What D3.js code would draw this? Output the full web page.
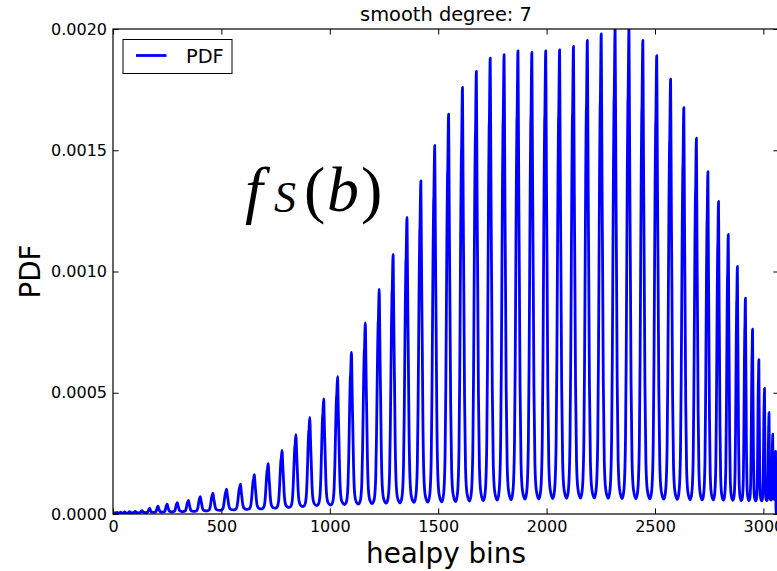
<!DOCTYPE html>
<html><head><meta charset="utf-8">
<script src="https://cdn.jsdelivr.net/npm/d3@7"></script>
<style>
body{margin:0;background:#fff}
svg{display:block}
text{font-family:"DejaVu Sans",sans-serif;fill:#000}
</style>
</head><body>
<svg id="c" width="777" height="571"></svg>
<script>
// ---- data ----
const ringPeakBin = [
  3,10,20,35,54,77,103,134,169,208,250,297,348,403,461,
  524,588,652,716,780,844,908,972,1036,1100,1164,1228,1292,1356,1420,1484,1548,1612,1676,1740,
  1804,1868,1932,1996,2060,2124,2188,2252,2316,2380,2444,2508,2572,
  2633,2691,2744,2793,2838,2880,2917,2950,2979,3005,3026,3043,3056,3066,3071
];
const ringPeakValue = [
  0.000004,0.000006,0.000007,0.000008,0.000009,0.000010,0.000011,0.000014,0.000023,0.000032,0.000041,0.000047,0.000056,0.000072,0.000086,
  0.000102,0.000123,0.000162,0.000208,0.000262,0.000327,0.000398,0.000475,0.000566,0.000666,0.000788,0.000926,0.001071,0.001223,0.001374,0.001520,
  0.001649,0.001759,0.001825,0.001880,0.001894,0.001910,0.001903,0.001910,0.001914,0.001928,0.001953,0.001980,0.002005,0.002002,0.001953,0.001890,0.001793,
  0.001676,0.001550,0.001412,0.001289,0.001153,0.001021,0.000890,0.000762,0.000636,0.000519,0.000419,0.000329,0.000258,0.000200,0.000150
];
const ringTroughValue = [
  0.000002,0.000003,0.000003,0.000004,0.000004,0.000005,0.000005,0.000006,0.000007,0.000008,0.000009,0.000010,0.000011,0.000013,0.000015,
  0.000017,0.000019,0.000021,0.000024,0.000027,0.000031,0.000035,0.000037,0.000039,0.000041,0.000043,0.000045,0.000046,0.000048,0.000049,0.000050,
  0.000051,0.000053,0.000055,0.000057,0.000059,0.000061,0.000062,0.000064,0.000065,0.000066,0.000066,0.000065,0.000064,0.000063,0.000062,0.000061,0.000060,
  0.000059,0.000058,0.000058,0.000057,0.000056,0.000055,0.000055,0.000054,0.000054,0.000055,0.000057,0.000060,0.000000,0.000000,0.000000
];
// normalised shape of one spike: [offset as fraction of ring spacing, level between trough and peak]
const spikeProfile = [
  [-0.5,0],[-0.4,0.01],[-0.32,0.04],[-0.25,0.13],[-0.2,0.3],[-0.16,0.5],[-0.12,0.7],[-0.08,0.84],[-0.06,0.86],[-0.04,0.92],[0,1],
  [0.03,0.85],[0.06,0.68],[0.1,0.5],[0.15,0.25],[0.22,0.08],[0.32,0.02],[0.5,0]
];
const xDomain = [0, 3072];
const yDomain = [0, 0.002];
const xTicks = [0,500,1000,1500,2000,2500,3000];
const yTicks = [0,0.0005,0.001,0.0015,0.002];
const yTickLabels = ["0.0000","0.0005","0.0010","0.0015","0.0020"];
const titleText = "smooth degree: 7";
const xLabel = "healpy bins";
const yLabel = "PDF";
const legendLabel = "PDF";

// ---- build line points ----
const pts = [];
ringPeakBin.forEach((p, j) => {
  const leftGap = j > 0 ? p - ringPeakBin[j-1] : 2*p;
  const rightGap = j < ringPeakBin.length-1 ? ringPeakBin[j+1] - p : 2*(xDomain[1]-p);
  const tL = j > 0 ? ringTroughValue[j-1] : 0;
  const tR = ringTroughValue[j];
  const pk = ringPeakValue[j];
  spikeProfile.forEach(([o, f]) => {
    if (o === -0.5 && j > 0) return;
    if (o <= 0) pts.push([p + o*leftGap, tL + f*(pk - tL)]);
    else pts.push([p + o*rightGap, tR + f*(pk - tR)]);
  });
});

// ---- layout ----
const L = 113, T = 29, R = 779, B = 514;
const svg = d3.select("#c");
const x = d3.scaleLinear().domain(xDomain).range([L, R]);
const y = d3.scaleLinear().domain(yDomain).range([B, T]);

svg.append("defs").append("clipPath").attr("id","clip")
  .append("rect").attr("x",L).attr("y",T).attr("width",R-L).attr("height",B-T);

svg.append("path").datum(pts)
  .attr("clip-path","url(#clip)")
  .attr("fill","none").attr("stroke","#0000ff").attr("stroke-width",2.8)
  .attr("stroke-linejoin","round").attr("stroke-linecap","round")
  .attr("d", d3.line().x(d=>x(d[0])).y(d=>y(d[1])).curve(d3.curveMonotoneX));

// axes
const tk = 5.6;
const ax = svg.append("g").attr("transform",`translate(0,${B})`)
  .call(d3.axisBottom(x).tickValues(xTicks).tickFormat(d3.format("d")).tickSizeInner(-tk).tickSizeOuter(0).tickPadding(7));
const axT = svg.append("g").attr("transform",`translate(0,${T})`)
  .call(d3.axisTop(x).tickValues(xTicks).tickFormat("").tickSizeInner(-tk).tickSizeOuter(0));
const ay = svg.append("g").attr("transform",`translate(${L},0)`)
  .call(d3.axisLeft(y).tickValues(yTicks).tickFormat((d,i)=>yTickLabels[i]).tickSizeInner(-tk).tickSizeOuter(0).tickPadding(6));
const ayR = svg.append("g").attr("transform",`translate(${R},0)`)
  .call(d3.axisRight(y).tickValues(yTicks).tickFormat("").tickSizeInner(-tk).tickSizeOuter(0));
[ax,axT,ay,ayR].forEach(g=>{
  g.selectAll(".domain").remove();
  g.selectAll(".tick line").attr("stroke","#000").attr("stroke-width",1);
  g.selectAll("text").attr("font-family","DejaVu Sans").attr("font-size",16).attr("fill","#000");
});
svg.append("rect").attr("x",L).attr("y",T).attr("width",R-L).attr("height",B-T)
  .attr("fill","none").attr("stroke","#000").attr("stroke-width",1.2);

// title and labels
svg.append("text").attr("x",(L+R)/2).attr("y",21).attr("text-anchor","middle")
  .attr("font-size",19.4).text(titleText);
svg.append("text").attr("x",(L+R)/2).attr("y",563).attr("text-anchor","middle")
  .attr("font-size",27.8).text(xLabel);
svg.append("text").attr("transform",`translate(40,${(T+B)/2}) rotate(-90)`).attr("text-anchor","middle")
  .attr("font-size",27.8).text(yLabel);

// legend
const lg = svg.append("g");
lg.append("rect").attr("x",123).attr("y",39.5).attr("width",109).attr("height",34)
  .attr("fill","#fff").attr("stroke","#000").attr("stroke-width",1);
lg.append("line").attr("x1",136).attr("x2",166.5).attr("y1",55.5).attr("y2",55.5)
  .attr("stroke","#0000ff").attr("stroke-width",2.8);
lg.append("text").attr("x",186).attr("y",62.5).attr("font-size",19.4).text(legendLabel);

// math annotation f_S(b)
const serif = "'Liberation Serif',serif";
const m = svg.append("g");
m.append("text").attr("x",245).attr("y",211).attr("font-size",64).attr("font-style","italic").style("font-family",serif).text("f");
m.append("text").attr("x",274).attr("y",212).attr("font-size",44).attr("font-style","italic").style("font-family",serif).text("S");
m.append("text").attr("x",304).attr("y",211).attr("font-size",64).style("font-family",serif).text("(");
m.append("text").attr("x",327).attr("y",211).attr("font-size",64).attr("font-style","italic").style("font-family",serif).text("b");
m.append("text").attr("x",361).attr("y",211).attr("font-size",64).style("font-family",serif).text(")");
</script>
</body></html>
